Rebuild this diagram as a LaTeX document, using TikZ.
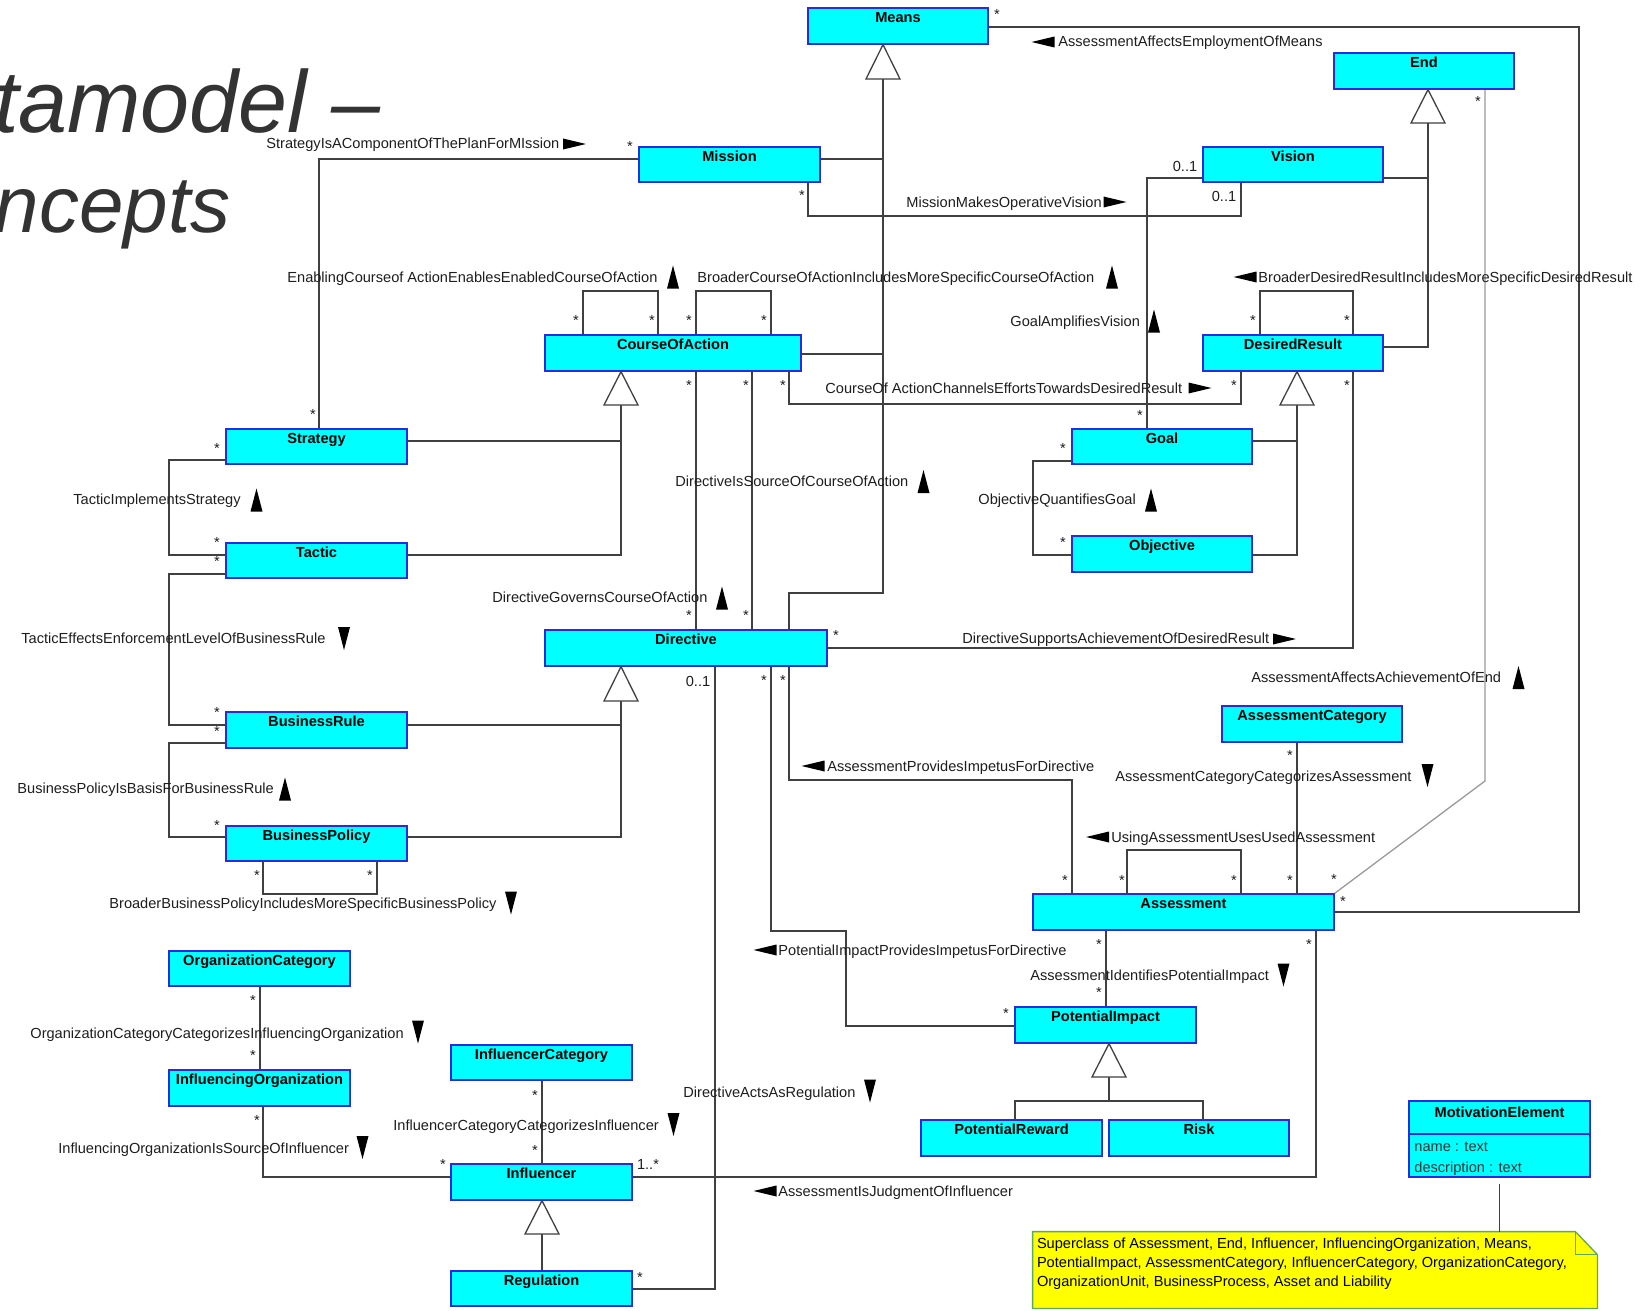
\documentclass[tikz,border=0pt]{standalone}
\usepackage{fontspec}
\setmainfont{Liberation Sans}
\usetikzlibrary{backgrounds}

\definecolor{clsfill}{HTML}{00FFFF}
\definecolor{clsline}{HTML}{2A2AE0}
\definecolor{wire}{HTML}{404040}
\definecolor{wirelight}{HTML}{9A9A9A}
\definecolor{lbltext}{HTML}{1E1E1E}
\definecolor{titletext}{HTML}{333333}
\definecolor{notefill}{HTML}{FFFF00}
\definecolor{noteline}{HTML}{5FA85F}

\tikzset{
  cls/.style={draw=clsline, fill=clsfill, line width=0.65pt, inner xsep=0pt, inner ysep=0pt,
    text height=7.2pt, text depth=#1, text=black,
    font=\fontsize{7.3}{8.5}\selectfont\bfseries},
  cls/.default=10.3pt,
  wire/.style={draw=wire, line width=0.65pt},
  gen/.style={draw=wire, line width=0.65pt, fill=white},
  lbl/.style={inner sep=0pt, anchor=base west, text=lbltext, font=\fontsize{7.3}{8.5}\selectfont},
  mult/.style={inner sep=0pt, anchor=base, text=lbltext, font=\fontsize{7.3}{8.5}\selectfont},
  bigtitle/.style={inner sep=0pt, anchor=base east, text=titletext, font=\fontsize{#1}{#1}\selectfont\itshape},
  tri/.style={fill=black},
}

% filled direction markers beside association names
\newcommand\arrUp[2]{\fill[tri] ({#1-6},{#2+11.5}) -- ({#1+6},{#2+11.5}) -- ({#1},{#2-11.5}) -- cycle;}
\newcommand\arrDown[2]{\fill[tri] ({#1-6},{#2-11.5}) -- ({#1+6},{#2-11.5}) -- ({#1},{#2+11.5}) -- cycle;}
\newcommand\arrRight[2]{\fill[tri] ({#1-11.5},{#2-5.5}) -- ({#1-11.5},{#2+5.5}) -- ({#1+11.5},{#2}) -- cycle;}
\newcommand\arrLeft[2]{\fill[tri] ({#1+11.5},{#2-5.5}) -- ({#1+11.5},{#2+5.5}) -- ({#1-11.5},{#2}) -- cycle;}

\begin{document}
\begin{tikzpicture}[x=0.5pt,y=-0.5pt]
\useasboundingbox (0,0) rectangle (1651,1311);
\clip (0,0) rectangle (1651,1311);

% slide heading
\node[bigtitle=44] (head1) at (381,133) {etamodel –};
\node[bigtitle=40] (head2) at (231,233) {ncepts};

% classes
\node[cls=10.8pt, minimum width=90pt]   (means)      at (898,26)      {Means};
\node[cls=10.8pt, minimum width=90pt]   (endc)       at (1424,71)     {End};
\node[cls, minimum width=90.5pt]        (mission)    at (729.5,164.5) {Mission};
\node[cls, minimum width=90pt]          (vision)     at (1293,164.5)  {Vision};
\node[cls=10.8pt, minimum width=128pt]  (coa)        at (673,353)     {CourseOfAction};
\node[cls=10.8pt, minimum width=90pt]   (desired)    at (1293,353)    {DesiredResult};
\node[cls, minimum width=90.5pt]        (strategy)   at (316.5,446.5) {Strategy};
\node[cls, minimum width=90pt]          (goal)       at (1162,446.5)  {Goal};
\node[cls, minimum width=90.5pt]        (tactic)     at (316.5,560.5) {Tactic};
\node[cls=10.8pt, minimum width=90pt]   (objective)  at (1162,554)    {Objective};
\node[cls=10.8pt, minimum width=141pt]  (directive)  at (686,648)     {Directive};
\node[cls=10.8pt, minimum width=90pt]   (assesscat)  at (1312,724)    {AssessmentCategory};
\node[cls=10.8pt, minimum width=90.5pt] (brule)      at (316.5,730)   {BusinessRule};
\node[cls, minimum width=90.5pt]        (bpolicy)    at (316.5,843.5) {BusinessPolicy};
\node[cls=10.8pt, minimum width=150.5pt](assessment) at (1183.5,912)  {Assessment};
\node[cls, minimum width=90.5pt]        (orgcat)     at (259.5,968.5) {OrganizationCategory};
\node[cls=10.8pt, minimum width=90.5pt] (potimpact)  at (1105.5,1025) {PotentialImpact};
\node[cls, minimum width=90.5pt]        (infcat)     at (541.5,1062.5){InfluencerCategory};
\node[cls=10.8pt, minimum width=90.5pt] (inforg)     at (259.5,1088)  {InfluencingOrganization};
\node[cls=30pt, text height=8pt, minimum width=90.5pt] (motiv) at (1499.5,1139) {MotivationElement};
\node[cls=10.8pt, minimum width=90.5pt] (potreward)  at (1011.5,1138) {PotentialReward};
\node[cls=10.8pt, minimum width=90pt]   (risk)       at (1199,1138)   {Risk};
\node[cls=10.8pt, minimum width=90.5pt] (influencer) at (541.5,1182)  {Influencer};
\node[cls, minimum width=90.5pt]        (regulation) at (541.5,1288.5){Regulation};

% attribute compartment of MotivationElement
\draw[clsline, line width=0.65pt] (motiv.west |- 0,1134) -- (motiv.east |- 0,1134);
\node[lbl, text=titletext] (attrname) at (1414,1151) {name : text};
\node[lbl, text=titletext] (attrdesc) at (1414,1172) {description : text};

% note
\node[minimum width=282pt, minimum height=38pt, inner sep=0pt] (note) at (1315,1270) {};
\node[anchor=north west, inner sep=0pt, align=left, text=black,
      font=\fontsize{7.3}{9.5}\selectfont] (notetext) at ([xshift=2pt,yshift=-3.2pt]note.north west)
  {Superclass of Assessment, End, Influencer, InfluencingOrganization, Means,\\
   PotentialImpact, AssessmentCategory, InfluencerCategory, OrganizationCategory,\\
   OrganizationUnit, BusinessProcess, Asset and Liability};

\begin{scope}[on background layer]
  \fill[white] (0,0) rectangle (1651,1311);
  \filldraw[fill=notefill, draw=noteline, line width=0.65pt]
    (note.north west) -- ([xshift=-11pt]note.north east) -- ([yshift=-11.5pt]note.north east)
    -- (note.south east) -- (note.south west) -- cycle;
  \draw[noteline, line width=0.65pt] ([xshift=-11pt]note.north east) -- ([xshift=-11pt,yshift=-11.5pt]note.north east)
    -- ([yshift=-11.5pt]note.north east);

  % generalization trees
  \draw[wire] (883,79) -- (883,593) -- (789,593) -- (directive.north -| 789,0);
  \draw[wire] (mission.east |- 0,159) -- (883,159);
  \draw[wire] (coa.east |- 0,354) -- (883,354);
  \draw[wire] (1428,123) -- (1428,347) -- (desired.east |- 0,347);
  \draw[wire] (vision.east |- 0,178) -- (1428,178);
  \draw[wire] (621,405) -- (621,555) -- (tactic.east |- 0,555);
  \draw[wire] (strategy.east |- 0,441) -- (621,441);
  \draw[wire] (1297,405) -- (1297,555) -- (objective.east |- 0,555);
  \draw[wire] (goal.east |- 0,441) -- (1297,441);
  \draw[wire] (621,701) -- (621,837) -- (bpolicy.east |- 0,837);
  \draw[wire] (brule.east |- 0,725) -- (621,725);
  \draw[wire] (542,1234) -- (regulation.north -| 542,0);
  \draw[wire] (1109,1077) -- (1109,1101);
  \draw[wire] (potreward.north -| 1015,0) -- (1015,1101) -- (1203,1101) -- (risk.north -| 1203,0);

  % associations
  \draw[wire] (mission.west |- 0,159) -- (319,159) -- (strategy.north -| 319,0);
  \draw[wire] (mission.south -| 808,0) -- (808,216) -- (1241,216) -- (vision.south -| 1241,0);
  \draw[wire] (vision.west |- 0,178) -- (1147,178) -- (goal.north -| 1147,0);
  \draw[wire] (means.east |- 0,27) -- (1579,27) -- (1579,912) -- (assessment.east |- 0,912);
  \draw[wire] (coa.north -| 583,0) -- (583,291) -- (658,291) -- (coa.north -| 658,0);
  \draw[wire] (coa.north -| 696,0) -- (696,291) -- (771,291) -- (coa.north -| 771,0);
  \draw[wire] (desired.north -| 1260,0) -- (1260,291) -- (1353,291) -- (desired.north -| 1353,0);
  \draw[wire] (coa.south -| 789,0) -- (789,404) -- (1241,404) -- (desired.south -| 1241,0);
  \draw[wire] (directive.north -| 696,0) -- (coa.south -| 696,0);
  \draw[wire] (directive.north -| 752,0) -- (coa.south -| 752,0);
  \draw[wire] (strategy.west |- 0,460) -- (169,460) -- (169,555) -- (tactic.west |- 0,555);
  \draw[wire] (tactic.west |- 0,574) -- (169,574) -- (169,725) -- (brule.west |- 0,725);
  \draw[wire] (brule.west |- 0,743) -- (169,743) -- (169,837) -- (bpolicy.west |- 0,837);
  \draw[wire] (bpolicy.south -| 263,0) -- (263,894) -- (377,894) -- (bpolicy.south -| 377,0);
  \draw[wire] (goal.west |- 0,461) -- (1033,461) -- (1033,555) -- (objective.west |- 0,555);
  \draw[wire] (directive.east |- 0,648) -- (1353,648) -- (desired.south -| 1353,0);
  \draw[wire, draw=wirelight] (endc.south -| 1485,0) -- (1485,781) -- (assessment.north east);
  \draw[wire] (assesscat.south -| 1297,0) -- (assessment.north -| 1297,0);
  \draw[wire] (assessment.north -| 1127,0) -- (1127,850) -- (1241,850) -- (assessment.north -| 1241,0);
  \draw[wire] (directive.south -| 789,0) -- (789,780) -- (1072,780) -- (assessment.north -| 1072,0);
  \draw[wire] (directive.south -| 771,0) -- (771,931) -- (846,931) -- (846,1026) -- (potimpact.west |- 0,1026);
  \draw[wire] (directive.south -| 715,0) -- (715,1289) -- (regulation.east |- 0,1289);
  \draw[wire] (assessment.south -| 1106,0) -- (potimpact.north -| 1106,0);
  \draw[wire] (influencer.east |- 0,1177) -- (1316,1177) -- (assessment.south -| 1316,0);
  \draw[wire] (orgcat.south -| 260,0) -- (inforg.north -| 260,0);
  \draw[wire] (inforg.south -| 263,0) -- (263,1177) -- (influencer.west |- 0,1177);
  \draw[wire] (infcat.south -| 542,0) -- (influencer.north -| 542,0);
  \draw[wire] ([yshift=-3pt]motiv.south) -- (note.north -| motiv.south);
\end{scope}

% generalization arrowheads
\draw[gen] (means.south -| 883,0) -- (866,79) -- (900,79) -- cycle;
\draw[gen] (endc.south -| 1428,0) -- (1411,123) -- (1445,123) -- cycle;
\draw[gen] (coa.south -| 621,0) -- (604,405) -- (638,405) -- cycle;
\draw[gen] (desired.south -| 1297,0) -- (1280,405) -- (1314,405) -- cycle;
\draw[gen] (directive.south -| 621,0) -- (604,701) -- (638,701) -- cycle;
\draw[gen] (influencer.south -| 542,0) -- (525,1234) -- (559,1234) -- cycle;
\draw[gen] (potimpact.south -| 1109,0) -- (1092,1077) -- (1126,1077) -- cycle;

% association names
\node[lbl] (n1)  at (266,149)  {StrategyIsAComponentOfThePlanForMIssion};
\node[lbl] (n2)  at (906,207)  {MissionMakesOperativeVision};
\node[lbl] (n3)  at (1010,326) {GoalAmplifiesVision};
\node[lbl] (n4)  at (1058,47)  {AssessmentAffectsEmploymentOfMeans};
\node[lbl] (n5)  at (287,282)  {EnablingCourseof ActionEnablesEnabledCourseOfAction};
\node[lbl] (n6)  at (697,282)  {BroaderCourseOfActionIncludesMoreSpecificCourseOfAction};
\node[lbl] (n7)  at (1258,282) {BroaderDesiredResultIncludesMoreSpecificDesiredResult};
\node[lbl] (n8)  at (825,393)  {CourseOf ActionChannelsEffortsTowardsDesiredResult};
\node[lbl] (n9)  at (492,602)  {DirectiveGovernsCourseOfAction};
\node[lbl] (n10) at (675,486)  {DirectiveIsSourceOfCourseOfAction};
\node[lbl] (n11) at (73,504)   {TacticImplementsStrategy};
\node[lbl] (n12) at (21,643)   {TacticEffectsEnforcementLevelOfBusinessRule};
\node[lbl] (n13) at (17,793)   {BusinessPolicyIsBasisForBusinessRule};
\node[lbl] (n14) at (109,908)  {BroaderBusinessPolicyIncludesMoreSpecificBusinessPolicy};
\node[lbl] (n15) at (978,504)  {ObjectiveQuantifiesGoal};
\node[lbl] (n16) at (962,643)  {DirectiveSupportsAchievementOfDesiredResult};
\node[lbl] (n17) at (1251,682) {AssessmentAffectsAchievementOfEnd};
\node[lbl] (n18) at (1115,781) {AssessmentCategoryCategorizesAssessment};
\node[lbl] (n19) at (1111,842) {UsingAssessmentUsesUsedAssessment};
\node[lbl] (n20) at (827,771)  {AssessmentProvidesImpetusForDirective};
\node[lbl] (n21) at (778,955)  {PotentialImpactProvidesImpetusForDirective};
\node[lbl] (n22) at (683,1097) {DirectiveActsAsRegulation};
\node[lbl] (n23) at (1030,980) {AssessmentIdentifiesPotentialImpact};
\node[lbl] (n24) at (778,1196) {AssessmentIsJudgmentOfInfluencer};
\node[lbl] (n25) at (30,1038)  {OrganizationCategoryCategorizesInfluencingOrganization};
\node[lbl] (n26) at (58,1153)  {InfluencingOrganizationIsSourceOfInfluencer};
\node[lbl] (n27) at (393,1130) {InfluencerCategoryCategorizesInfluencer};

% reading-direction markers
\arrRight{574.5}{144}
\arrRight{1115}{202}
\arrUp{1154}{321}
\arrLeft{1043}{42}
\arrUp{673}{277}
\arrUp{1112}{277}
\arrLeft{1245}{277}
\arrRight{1200}{388}
\arrUp{722}{598}
\arrUp{923.5}{481.5}
\arrUp{256.5}{500}
\arrDown{344}{638.5}
\arrUp{285}{789}
\arrDown{511}{903}
\arrUp{1151}{500}
\arrRight{1284.5}{639}
\arrUp{1518.5}{677.5}
\arrDown{1427.5}{775.5}
\arrLeft{1097.5}{837}
\arrLeft{813}{766}
\arrLeft{765}{950}
\arrDown{870}{1091}
\arrDown{1283.5}{975}
\arrLeft{765}{1191}
\arrDown{418}{1032}
\arrDown{362.5}{1147.5}
\arrDown{673.5}{1124.5}

% multiplicities
\node[mult] (m1)  at (630,152)  {*};
\node[mult] (m2)  at (313,419)  {*};
\node[mult] (m3)  at (802,201)  {*};
\node[mult] (m4)  at (1224,202) {0..1};
\node[mult] (m5)  at (1185,171) {0..1};
\node[mult] (m6)  at (1140,420) {*};
\node[mult] (m7)  at (997,20)   {*};
\node[mult] (m8)  at (1343,906) {*};
\node[mult] (m9)  at (576,325)  {*};
\node[mult] (m10) at (652,325)  {*};
\node[mult] (m11) at (689,325)  {*};
\node[mult] (m12) at (764,325)  {*};
\node[mult] (m13) at (1253,325) {*};
\node[mult] (m14) at (1347,325) {*};
\node[mult] (m15) at (783,390)  {*};
\node[mult] (m16) at (1234,390) {*};
\node[mult] (m17) at (689,390)  {*};
\node[mult] (m18) at (689,620)  {*};
\node[mult] (m19) at (746,390)  {*};
\node[mult] (m20) at (746,620)  {*};
\node[mult] (m21) at (217,453)  {*};
\node[mult] (m22) at (217,547)  {*};
\node[mult] (m23) at (217,566)  {*};
\node[mult] (m24) at (217,717)  {*};
\node[mult] (m25) at (217,736)  {*};
\node[mult] (m26) at (217,830)  {*};
\node[mult] (m27) at (257,880)  {*};
\node[mult] (m28) at (370,880)  {*};
\node[mult] (m29) at (1063,453) {*};
\node[mult] (m30) at (1063,547) {*};
\node[mult] (m31) at (836,640)  {*};
\node[mult] (m32) at (1347,390) {*};
\node[mult] (m33) at (1478,107) {*};
\node[mult] (m34) at (1334,884) {*};
\node[mult] (m35) at (1290,760) {*};
\node[mult] (m36) at (1290,885) {*};
\node[mult] (m37) at (1122,885) {*};
\node[mult] (m38) at (1234,885) {*};
\node[mult] (m39) at (783,685)  {*};
\node[mult] (m40) at (1065,885) {*};
\node[mult] (m41) at (764,685)  {*};
\node[mult] (m42) at (1006,1018){*};
\node[mult] (m43) at (698,686)  {0..1};
\node[mult] (m44) at (640,1282) {*};
\node[mult] (m45) at (1099,949) {*};
\node[mult] (m46) at (1099,997) {*};
\node[mult] (m47) at (648,1169) {1..*};
\node[mult] (m48) at (1309,949) {*};
\node[mult] (m49) at (253,1005) {*};
\node[mult] (m50) at (253,1060) {*};
\node[mult] (m51) at (257,1125) {*};
\node[mult] (m52) at (443,1169) {*};
\node[mult] (m53) at (535,1100) {*};
\node[mult] (m54) at (535,1155) {*};
\end{tikzpicture}
\end{document}
